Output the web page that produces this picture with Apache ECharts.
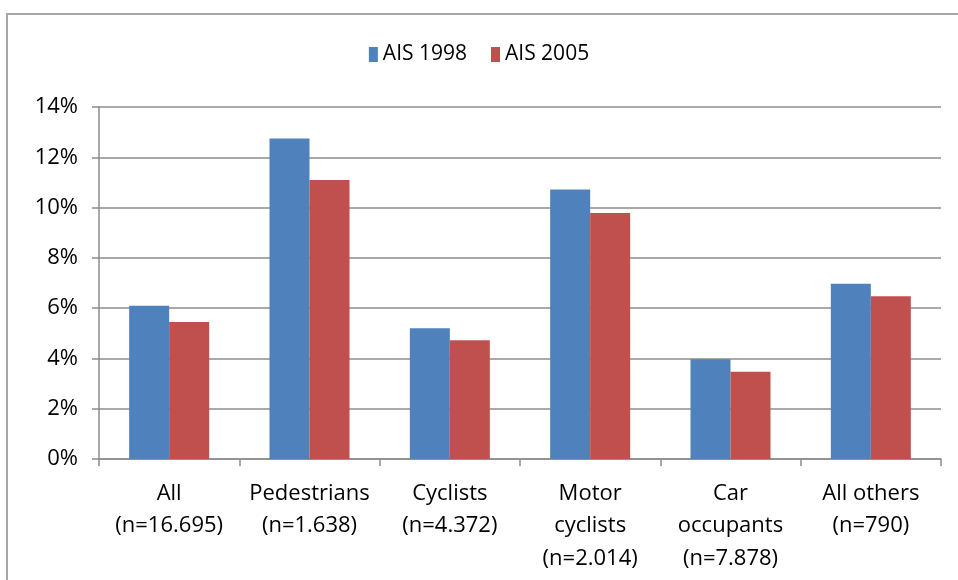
<!DOCTYPE html>
<html>
<head>
<meta charset="utf-8">
<script src="https://cdn.jsdelivr.net/npm/echarts@6/dist/echarts.min.js"></script>
<style>
html,body{margin:0;padding:0;background:#fff;}
#frame{position:absolute;left:6px;top:13px;width:960px;height:580px;border:2px solid #a6a6a6;box-sizing:border-box;}
#chart{position:absolute;left:0;top:0;width:958px;height:580px;}
</style>
</head>
<body>
<div id="frame"></div>
<div id="chart"></div>
<script>
// categories and values (percent)
var categories = ['All\n(n=16.695)', 'Pedestrians\n(n=1.638)', 'Cyclists\n(n=4.372)', 'Motor\ncyclists\n(n=2.014)', 'Car\noccupants\n(n=7.878)', 'All others\n(n=790)'];
var ais1998 = [6.1, 12.75, 5.2, 10.72, 3.97, 6.97];
var ais2005 = [5.45, 11.1, 4.72, 9.78, 3.47, 6.47];
var seriesNames = ['AIS 1998', 'AIS 2005'];

var chart = echarts.init(document.getElementById('chart'));
var fontFam = '"Open Sans", "Noto Sans", sans-serif';
var option = {
	animation: false,
	textStyle: { fontFamily: fontFam },
	legend: {
		top: 39,
		left: 'center',
		icon: 'rect',
		itemWidth: 9,
		itemHeight: 15,
		itemGap: 24,
		textStyle: { fontSize: 21, color: '#000', fontFamily: fontFam },
		data: seriesNames
	},
	grid: { left: 99, right: 17, top: 107, bottom: 121, containLabel: false },
	xAxis: {
		type: 'category',
		data: categories,
		axisLine: { lineStyle: { color: '#8c8c8c', width: 1.5 } },
		axisTick: { show: true, length: 7, lineStyle: { color: '#8c8c8c', width: 1.5 } },
		axisLabel: { fontSize: 22, color: '#000', lineHeight: 32.5, margin: 18, interval: 0, fontFamily: fontFam }
	},
	yAxis: {
		type: 'value',
		min: 0,
		max: 14,
		interval: 2,
		axisLine: { show: true, lineStyle: { color: '#8c8c8c', width: 1.5 } },
		axisTick: { show: true, length: 7, lineStyle: { color: '#8c8c8c', width: 1.5 } },
		splitLine: { lineStyle: { color: '#8c8c8c', width: 1.5 } },
		axisLabel: { fontSize: 22, color: '#000', margin: 21, formatter: '{value}%', fontFamily: fontFam }
	},
	series: [{
		name: seriesNames[0],
		type: 'bar',
		data: ais1998,
		barWidth: 40,
		barGap: '0%',
		itemStyle: { color: '#4f81bd' }
	}, {
		name: seriesNames[1],
		type: 'bar',
		data: ais2005,
		barWidth: 40,
		barGap: '0%',
		itemStyle: { color: '#c0504d' }
	}]
};
chart.setOption(option);
</script>
</body>
</html>
